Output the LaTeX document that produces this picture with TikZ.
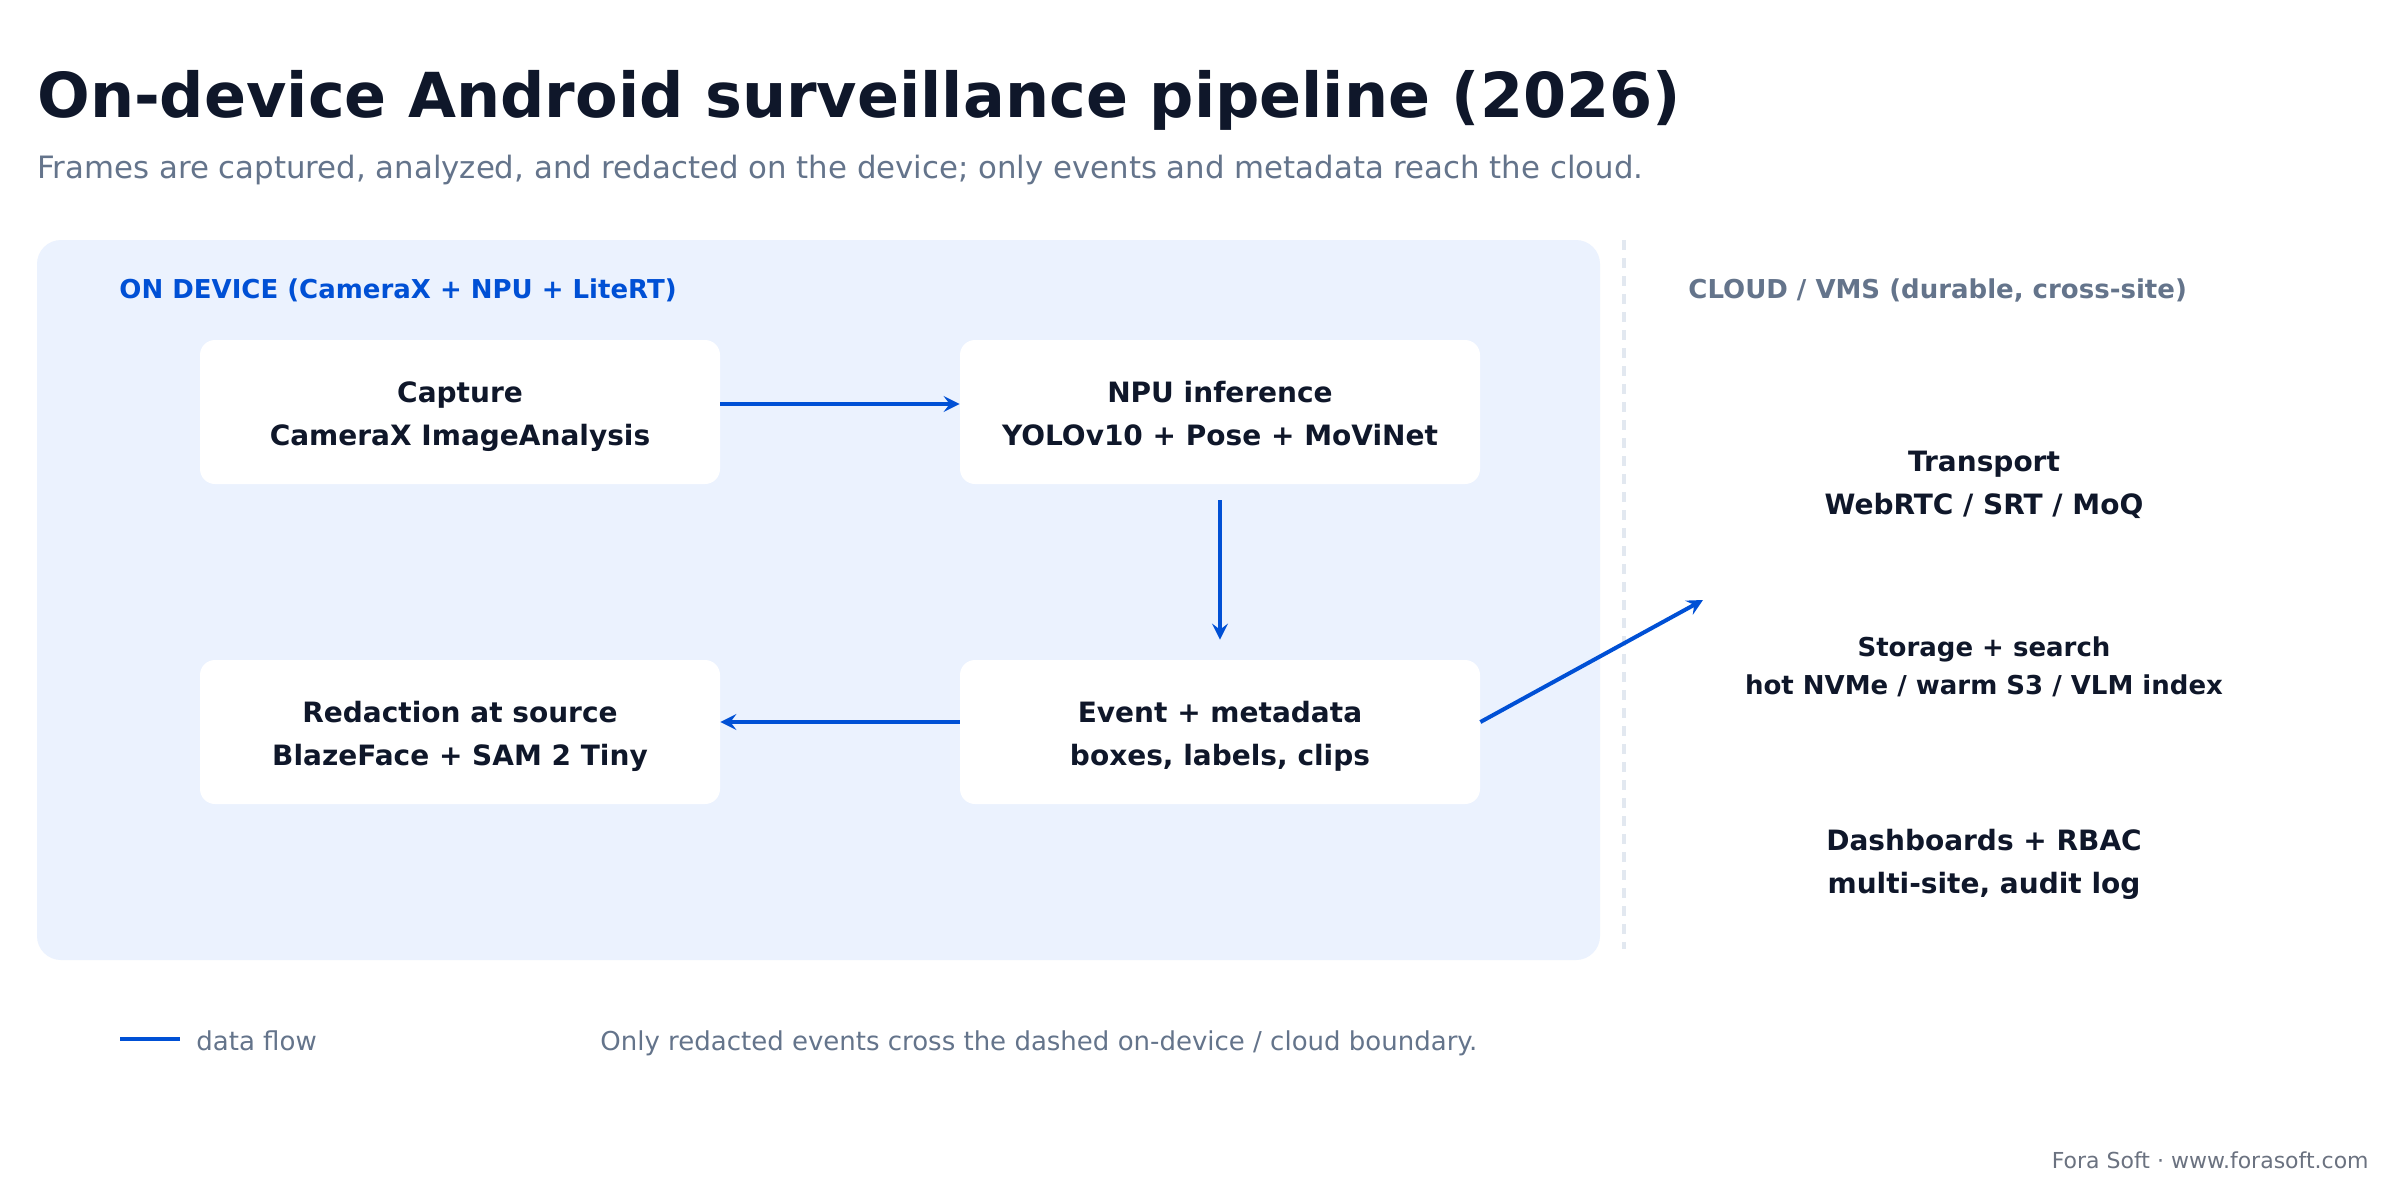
\documentclass[tikz,border=0pt]{standalone}
\usepackage{fontspec}
\setmainfont{DejaVu Sans}
\usetikzlibrary{arrows.meta}
\definecolor{ink}{HTML}{0F172A}
\definecolor{slate}{HTML}{64748B}
\definecolor{panelblue}{HTML}{EBF2FE}
\definecolor{flowblue}{HTML}{0050D5}
\definecolor{rulegray}{HTML}{E2E8F0}
\definecolor{footgray}{HTML}{6B7280}
\newcommand{\twolines}[2]{\strut #1\\\strut #2}
\begin{document}
\begin{tikzpicture}[x=0.5pt,y=-0.5pt,
  card/.style={fill=white, rounded corners=7.5pt, minimum width=260pt, minimum height=72pt, inner sep=0pt},
  ctext/.style={align=center, font=\fontsize{14}{21.5}\selectfont\bfseries, text=ink, inner sep=0pt, yshift=-1.45pt},
  cloudcard/.style={minimum width=260pt, minimum height=72pt, align=center,
    font=\fontsize{14}{21.5}\selectfont\bfseries, text=ink, inner sep=0pt},
  flow/.style={draw=flowblue, line width=2pt, -{Stealth[length=8pt,width=8pt,inset=3pt]}},
  plain/.style={anchor=base west, inner sep=0pt},
]
\useasboundingbox (0,0) rectangle (2400,1200);
\fill[white] (0,0) rectangle (2400,1200);

\node[plain, font=\fontsize{31}{37}\selectfont\bfseries, text=ink] (title) at (37,117)
  {On-device Android surveillance pipeline (2026)};
\node[plain, font=\fontsize{15.4}{18}\selectfont, text=slate] (subtitle) at (37,178)
  {Frames are captured, analyzed, and redacted on the device; only events and metadata reach the cloud.};

\node[fill=panelblue, rounded corners=12pt, minimum width=781.5pt, minimum height=360pt, inner sep=0pt] (device) at (818.5,600) {};
\coordinate (btop) at (1624,240);
\coordinate (bbot) at (1624,949);
\draw[rulegray, line width=2pt, dash pattern=on 5pt off 4pt] (btop) -- (bbot);

\node[plain, font=\fontsize{13}{16}\selectfont\bfseries, text=flowblue] (devlabel) at (119,298)
  {ON DEVICE (CameraX + NPU + LiteRT)};
\node[plain, font=\fontsize{13}{16}\selectfont\bfseries, text=slate] (cloudlabel) at (1688,298)
  {CLOUD / VMS (durable, cross-site)};

\node[card, label={[ctext]center:{\twolines{Capture}{CameraX ImageAnalysis}}}] (capture) at (460,412) {};
\node[card, label={[ctext]center:{\twolines{NPU inference}{YOLOv10 + Pose + MoViNet}}}] (npu) at (1220,412) {};
\node[card, label={[ctext]center:{\twolines{Event + metadata}{boxes, labels, clips}}}] (event) at (1220,732) {};
\node[card, label={[ctext]center:{\twolines{Redaction at source}{BlazeFace + SAM 2 Tiny}}}] (redact) at (460,732) {};

\node[cloudcard] (transport) at (1984,485) {Transport\\WebRTC / SRT / MoQ};
\node[cloudcard, font=\fontsize{13}{19}\selectfont\bfseries] (storage) at (1984,667) {Storage + search\\hot NVMe / warm S3 / VLM index};
\node[cloudcard] (dash) at (1984,864) {Dashboards + RBAC\\multi-site, audit log};
\coordinate (cloudin) at (1703,600);

\draw[flow] ([yshift=4pt]capture.east) -- ([yshift=4pt]npu.west);
\draw[flow] ([yshift=-8pt]npu.south) -- ([yshift=10pt]event.north);
\draw[flow] ([yshift=5pt]event.west) -- ([yshift=5pt]redact.east);
\draw[flow] ([yshift=5pt]event.east) -- (cloudin);

\coordinate (lg1) at (120,1039);
\coordinate (lg2) at (180,1039);
\draw[flowblue, line width=2.2pt] (lg1) -- (lg2);
\node[plain, font=\fontsize{13}{16}\selectfont, text=slate] (lgtext) at (196,1050) {data flow};
\node[plain, font=\fontsize{13}{16}\selectfont, text=slate] (note) at (600,1050)
  {Only redacted events cross the dashed on-device / cloud boundary.};
\node[anchor=base east, inner sep=0pt, font=\fontsize{11}{13}\selectfont, text=footgray] (footer) at (2369,1168)
  {Fora Soft · www.forasoft.com};
\end{tikzpicture}
\end{document}
